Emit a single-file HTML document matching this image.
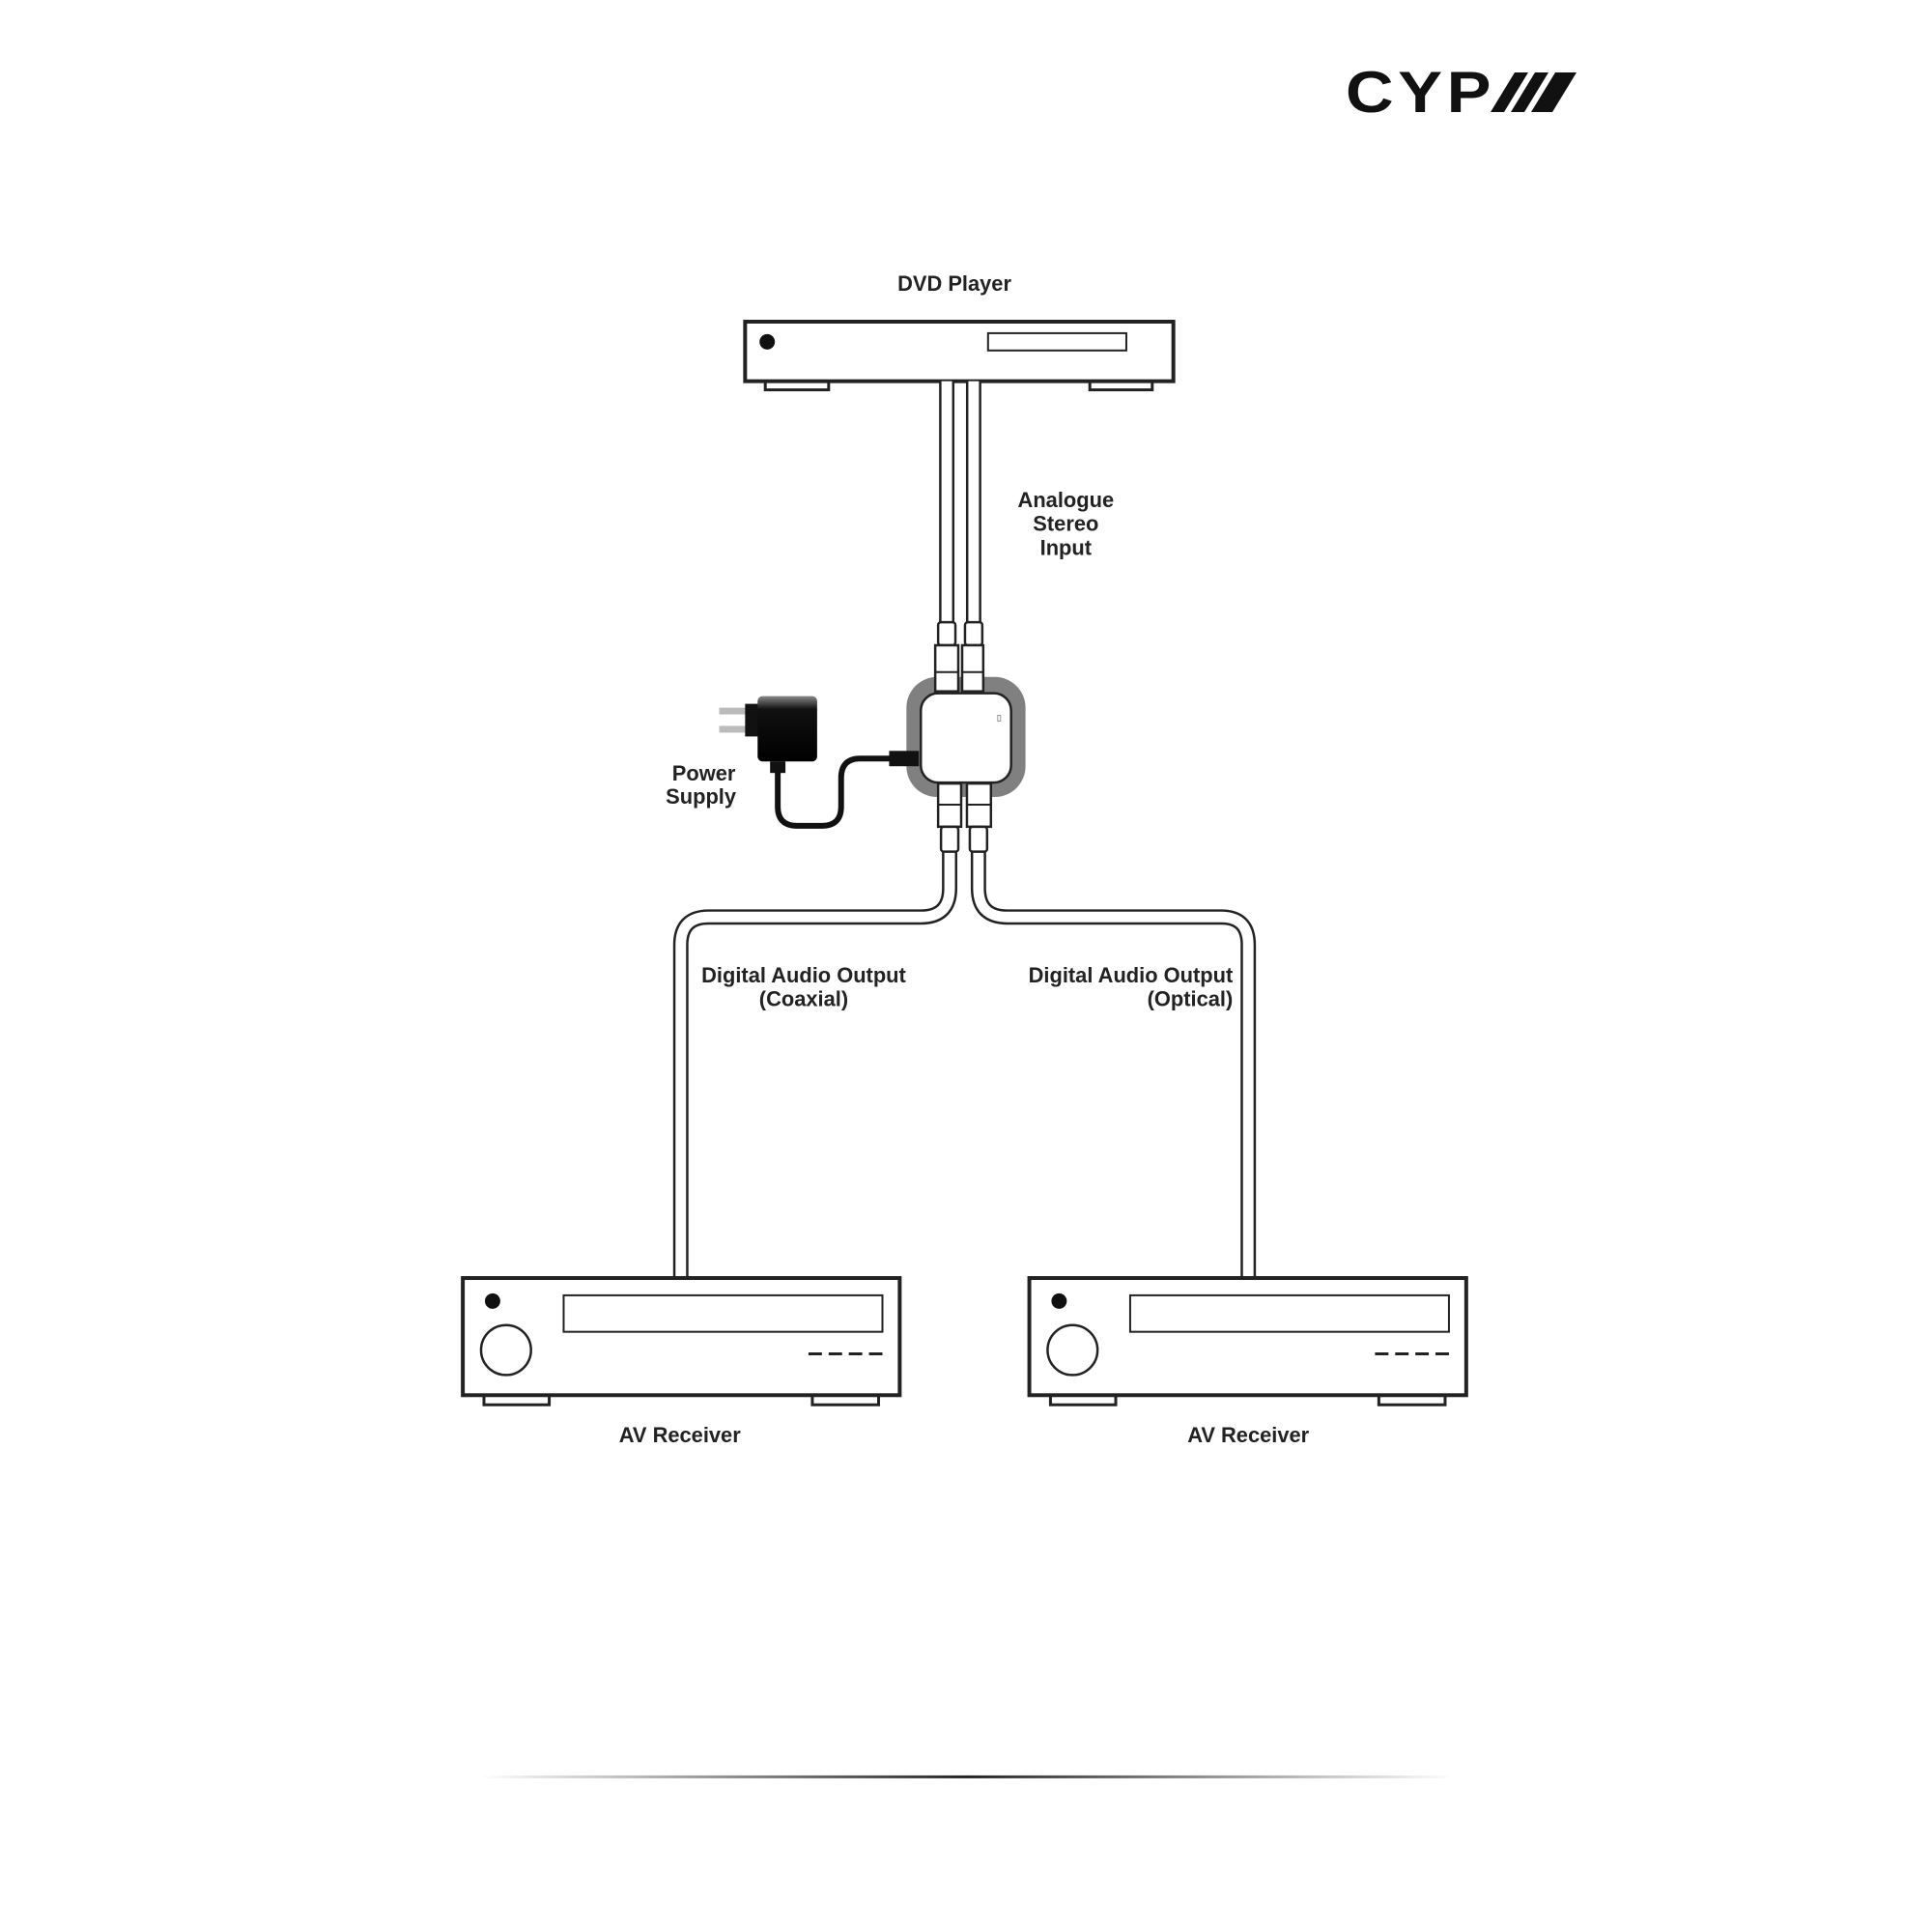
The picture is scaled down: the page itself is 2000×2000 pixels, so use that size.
<!DOCTYPE html>
<html><head><meta charset="utf-8"><style>
html,body{margin:0;padding:0;background:#fff;}
svg{display:block;}
text{font-family:"Liberation Sans",sans-serif;font-weight:bold;fill:#222;font-size:22px;}
</style></head><body>
<svg width="2000" height="2000" viewBox="0 0 2000 2000">
<defs>
<linearGradient id="lg" x1="0" x2="1" y1="0" y2="0">
<stop offset="0" stop-color="#fff"/><stop offset="0.5" stop-color="#222"/><stop offset="1" stop-color="#fff"/>
</linearGradient>
<linearGradient id="ad" x1="0" x2="0" y1="0" y2="1">
<stop offset="0" stop-color="#888"/><stop offset="0.2" stop-color="#111"/><stop offset="1" stop-color="#000"/>
</linearGradient>
</defs>
<!-- logo -->
<text x="1393" y="116" style="font-size:60px;font-weight:bold;fill:#111;letter-spacing:4px" textLength="155" lengthAdjust="spacingAndGlyphs">CYP</text>
<polygon points="1543,116 1568,75 1582,75 1557,116" fill="#111"/>
<polygon points="1564,116 1589,75 1603,75 1578,116" fill="#111"/>
<polygon points="1585,116 1610,75 1632,75 1607,116" fill="#111"/>

<g transform="scale(0.994)">
<!-- DVD player -->
<text x="994" y="303" text-anchor="middle">DVD Player</text>
<rect x="797" y="395" width="66" height="11" fill="#fff" stroke="#222" stroke-width="3"/>
<rect x="1135" y="395" width="65" height="11" fill="#fff" stroke="#222" stroke-width="3"/>
<rect x="776" y="335" width="446" height="62" fill="#fff" stroke="#222" stroke-width="4"/>
<circle cx="799" cy="356" r="8" fill="#111"/>
<rect x="1029" y="347" width="144" height="18" fill="#fff" stroke="#222" stroke-width="2"/>

<g transform="translate(6,0)">
<!-- input cables -->
<g fill="none" stroke-linecap="butt">
<path d="M980 397 V652" stroke="#222" stroke-width="16"/>
<path d="M980 397 V652" stroke="#fff" stroke-width="11"/>
<path d="M1008 397 V652" stroke="#222" stroke-width="16"/>
<path d="M1008 397 V652" stroke="#fff" stroke-width="11"/>
</g>
<!-- device -->
<rect x="938" y="705" width="124" height="125" rx="32" fill="#808080"/>
<g fill="#fff" stroke="#222" stroke-width="2.5">
<rect x="971" y="648" width="18" height="24" rx="3"/>
<rect x="999" y="648" width="18" height="24" rx="3"/>
<rect x="968" y="672" width="24" height="48"/>
<rect x="996" y="672" width="22" height="48"/>
</g>
<path d="M968 700 H992 M996 700 H1018" stroke="#222" stroke-width="2"/>
<rect x="953" y="722" width="94" height="93" rx="18" fill="#fff" stroke="#222" stroke-width="2.5"/>
<rect x="1033" y="745" width="3" height="6" fill="none" stroke="#999" stroke-width="1"/>
</g>
<text x="1110" y="528" text-anchor="middle">Analogue</text>
<text x="1110" y="553" text-anchor="middle">Stereo</text>
<text x="1110" y="578" text-anchor="middle">Input</text>

<!-- output cables -->
<g fill="none">
<path d="M989 887 V925 Q989 955 959 955 H738 Q709 955 709 984 V1331" stroke="#222" stroke-width="16"/>
<path d="M989 887 V925 Q989 955 959 955 H738 Q709 955 709 984 V1331" stroke="#fff" stroke-width="11"/>
<path d="M1019 887 V925 Q1019 955 1049 955 H1272 Q1300 955 1300 984 V1331" stroke="#222" stroke-width="16"/>
<path d="M1019 887 V925 Q1019 955 1049 955 H1272 Q1300 955 1300 984 V1331" stroke="#fff" stroke-width="11"/>
</g>
<g transform="translate(6,0)">
<g fill="#fff" stroke="#222" stroke-width="2.5">
<rect x="971" y="816" width="24" height="45"/>
<rect x="1001" y="816" width="25" height="45"/>
<rect x="974" y="861" width="18" height="26" rx="3"/>
<rect x="1004" y="861" width="18" height="26" rx="3"/>
</g>
<path d="M971 838 H995 M1001 838 H1026" stroke="#222" stroke-width="2"/>
</g>
<text x="837" y="1023" text-anchor="middle">Digital Audio Output</text>
<text x="837" y="1048" text-anchor="middle">(Coaxial)</text>
<text x="1284" y="1023" text-anchor="end">Digital Audio Output</text>
<text x="1284" y="1048" text-anchor="end">(Optical)</text>

<!-- power supply -->
<g transform="translate(4,0)">
<path d="M806 795 V840 Q806 860 826 860 H852 Q872 860 872 840 V810 Q872 790 892 790 H925" fill="none" stroke="#111" stroke-width="6"/>
<rect x="922" y="782" width="31" height="16" fill="#111"/>
<rect x="745" y="737" width="28" height="7" fill="#bbb"/>
<rect x="745" y="756" width="28" height="7" fill="#bbb"/>
<rect x="772" y="733" width="14" height="34" fill="#111"/>
<rect x="785" y="725" width="62" height="68" rx="5" fill="url(#ad)"/>
<rect x="798" y="793" width="16" height="12" fill="#111"/>
</g>
<text x="733" y="813" text-anchor="middle">Power</text>
<text x="730" y="837" text-anchor="middle">Supply</text>

<!-- receivers -->
<g id="r1">
<rect x="504" y="1451" width="68" height="12" fill="#fff" stroke="#222" stroke-width="3"/>
<rect x="846" y="1451" width="69" height="12" fill="#fff" stroke="#222" stroke-width="3"/>
<rect x="482" y="1331" width="455" height="122" fill="#fff" stroke="#222" stroke-width="4"/>
<circle cx="513" cy="1355" r="8" fill="#111"/>
<circle cx="527" cy="1406" r="26" fill="#fff" stroke="#222" stroke-width="2.5"/>
<rect x="587" y="1349" width="332" height="38" fill="#fff" stroke="#222" stroke-width="2"/>
<path d="M842 1410 H919" stroke="#222" stroke-width="3" stroke-dasharray="14 7"/>
</g>
<use href="#r1" transform="translate(590,0)"/>
<text x="708" y="1502" text-anchor="middle">AV Receiver</text>
<text x="1300" y="1502" text-anchor="middle">AV Receiver</text>

<rect x="500" y="1849" width="1013" height="3" fill="url(#lg)"/>
</g>
</svg>
</body></html>
